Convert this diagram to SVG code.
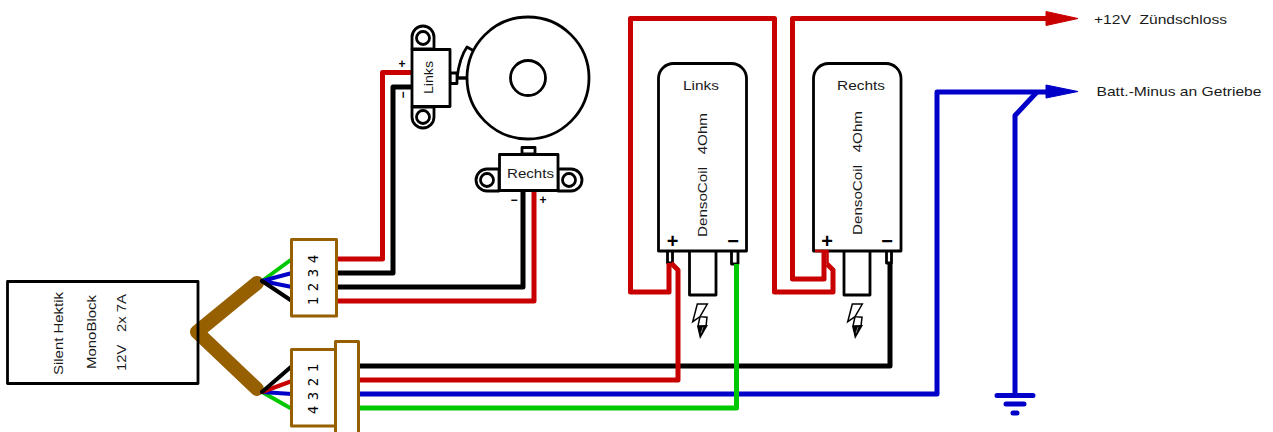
<svg xmlns="http://www.w3.org/2000/svg" width="1273" height="432" viewBox="0 0 1273 432">
<style>
text{font-family:"Liberation Sans",Arial,sans-serif;fill:#1a1a1a;font-size:13px}
.mono{font-family:"DejaVu Sans Mono","Liberation Mono",monospace;font-size:14px;text-anchor:middle;fill:#000}
.pm{font-weight:bold;font-size:12px;text-anchor:middle;fill:#000}
.pl{font-weight:bold;font-size:20px;text-anchor:middle;fill:#000}
.b{fill:#fff;stroke:#000;stroke-width:2.800;stroke-linejoin:round}
.o{fill:none;stroke:#000;stroke-width:2.800;stroke-linejoin:round}
.br{fill:#fff;stroke:#965f00;stroke-width:3;stroke-linejoin:round}
.w{fill:none;stroke-width:5;stroke-linejoin:round;stroke-linecap:butt}
.t{fill:none;stroke-width:4;stroke-linecap:round}
.red{stroke:#c80000}.blk{stroke:#000}.blu{stroke:#0000c8}.grn{stroke:#00c800}
.bolt{fill:#fff;stroke:#000;stroke-width:1.5}
</style>
<defs>
<g id="bolt">
<path class="bolt" d="M8.300 9H18.300L11 21.700L18 22.300L17 31H9L11 21.700L3.700 26.700Z"/>
<path d="M8 31L19 30L11 44Z" fill="#000"/>
<path d="M14 32L12 38" stroke="#fff" stroke-width=".5" fill="none"/>
</g>
</defs>
<g id="coil-links">
<path class="b" d="M667.500 251V263H672.500V251"/>
<path class="b" d="M731.500 251V264H738V251"/>
<path class="b" d="M689.500 251V295H716V251"/>
<path class="b" d="M658.500 251V78A15 15 0 0 1 673.500 63.500H731.500A15 15 0 0 1 746.500 78V251Z"/>
<text x="683" y="90" textLength="36" lengthAdjust="spacingAndGlyphs">Links</text>
<text transform="translate(707,237) rotate(-90)" xml:space="preserve" textLength="124" lengthAdjust="spacingAndGlyphs">DensoCoil   4Ohm</text>
<text class="pl" x="672.700" y="248">+</text>
<text class="pl" x="733" y="248">−</text>
<use href="#bolt" x="689" y="295"/>
</g>
<g id="coil-rechts">
<path class="b" d="M886.500 251V263H891.500V251"/>
<path class="b" d="M844 251V295H870V251"/>
<path class="b" d="M813.500 251V78A15 15 0 0 1 828.500 63.500H886A15 15 0 0 1 901 78V251Z"/>
<text x="837" y="90" textLength="48" lengthAdjust="spacingAndGlyphs">Rechts</text>
<text transform="translate(862,235) rotate(-90)" xml:space="preserve" textLength="124" lengthAdjust="spacingAndGlyphs">DensoCoil   4Ohm</text>
<text class="pl" x="827" y="248">+</text>
<text class="pl" x="887" y="248">−</text>
<use href="#bolt" x="844" y="295"/>
</g>
<g id="connectors">
<path class="w red" d="M336 259H382.500V72.500H412"/>
<path class="w blk" d="M336 273H393V87H412"/>
<path class="w blk" d="M336 287H523V190"/>
<path class="w red" d="M336 301H534V190"/>
<path class="w blk" d="M358 366H890V263"/>
<path class="w red" d="M358 380H678V270L671 263"/>
<path class="w blu" d="M358 394H937V92H1050"/>
<path class="w grn" d="M358 408H736.500V264"/>
<path class="w red" d="M669 263V292H630.500V18.500H774.500V292H833V270L827 264"/>
<path d="M827.500 264V251H815" fill="none" stroke="#c80000" stroke-width="2.500"/>
<path class="w red" d="M824 251V279H792.500V18.500H1050"/>
<path d="M1046 11.500L1078 18.500L1046 25.500Z" fill="#c80000" stroke="#c80000" stroke-linejoin="round"/>
<path d="M1046 85L1078 91.500L1046 98Z" fill="#0000c8" stroke="#0000c8" stroke-linejoin="round"/>
<path class="w blu" d="M1037 92L1015 115.500V395"/>
<path class="t blu" style="stroke-width:5" d="M997 395.500H1033M1006 404H1024M1013 413H1017"/>
<path d="M257 283L197 332L257 389" fill="none" stroke="#965f00" stroke-width="14" stroke-linecap="round" stroke-linejoin="round"/>
<path class="t grn" d="M262 281L292 259"/><path class="t blu" d="M262 281L292 273M262 281L292 287"/><path class="t blk" d="M262 281L292 301"/>
<path class="t grn" d="M262 392L292 409"/><path class="t blu" d="M262 392L292 394"/><path class="t red" d="M262 392L292 381"/><path class="t blk" d="M262 392L292 366"/>
</g>
<g id="amp">
<rect class="o" x="7.500" y="281.500" width="190.500" height="102"/>
<text transform="translate(63,375) rotate(-90)" textLength="83" lengthAdjust="spacingAndGlyphs">Silent Hektik</text>
<text transform="translate(96,369) rotate(-90)" textLength="74" lengthAdjust="spacingAndGlyphs">MonoBlock</text>
<text transform="translate(126,371) rotate(-90)" xml:space="preserve" textLength="77" lengthAdjust="spacingAndGlyphs">12V   2x 7A</text>
</g>
<g id="connector-1">
<rect class="br" x="291.500" y="239.500" width="45" height="76.500"/>
<text class="mono" transform="translate(318,301) rotate(-90)">1</text>
<text class="mono" transform="translate(318,287) rotate(-90)">2</text>
<text class="mono" transform="translate(318,273) rotate(-90)">3</text>
<text class="mono" transform="translate(318,259) rotate(-90)">4</text>
</g>
<g id="connector-2">
<rect class="br" x="291.500" y="349.500" width="45" height="76.500"/>
<rect class="br" x="335.500" y="341.500" width="23" height="95"/>
<text class="mono" transform="translate(318,410) rotate(-90)">4</text>
<text class="mono" transform="translate(318,396) rotate(-90)">3</text>
<text class="mono" transform="translate(318,382) rotate(-90)">2</text>
<text class="mono" transform="translate(318,368) rotate(-90)">1</text>
</g>
<g id="buzzer">
<path class="b" d="M457 78C459 62 462 54 467 47L474 51L470 78Z"/>
<circle class="b" cx="528" cy="78" r="61"/>
<circle class="b" cx="528" cy="78" r="17.500"/>
<path class="o" d="M457 78H467"/>
</g>
<g id="sensor-links">
<path class="b" d="M412 49V37A11 11 0 0 1 434 37V49ZM412 107V117A11 11 0 0 0 434 117V107Z"/>
<circle class="b" cx="423" cy="38" r="6.500"/><circle class="b" cx="423" cy="117" r="6.500"/>
<rect class="b" x="450" y="73" width="7" height="10.500"/>
<rect class="b" x="412" y="49.500" width="38" height="57"/>
<text transform="translate(433,94) rotate(-90)" textLength="33" lengthAdjust="spacingAndGlyphs">Links</text>
<text class="pm" x="402" y="68">+</text>
<text class="pm" transform="translate(402.500,95) rotate(-90)" y="4">−</text>
</g>
<g id="sensor-rechts">
<path class="b" d="M522 154V147.500H535V154Z"/>
<path class="b" d="M499 169H487A11 11 0 0 0 487 191H499ZM558 169H571A11 11 0 0 1 571 191H558Z"/>
<circle class="b" cx="487" cy="180" r="6.500"/><circle class="b" cx="569" cy="180" r="6.500"/>
<rect class="b" x="499.500" y="154.500" width="58.500" height="36"/>
<text x="507" y="178" textLength="47" lengthAdjust="spacingAndGlyphs">Rechts</text>
<text class="pm" x="514" y="204">−</text>
<text class="pm" x="543" y="204">+</text>
</g>
<g id="labels">
<text x="1094" y="23.500" xml:space="preserve" textLength="133" lengthAdjust="spacingAndGlyphs">+12V  Zündschloss</text>
<text x="1096.500" y="96" textLength="165" lengthAdjust="spacingAndGlyphs">Batt.-Minus an Getriebe</text>
</g>
</svg>
